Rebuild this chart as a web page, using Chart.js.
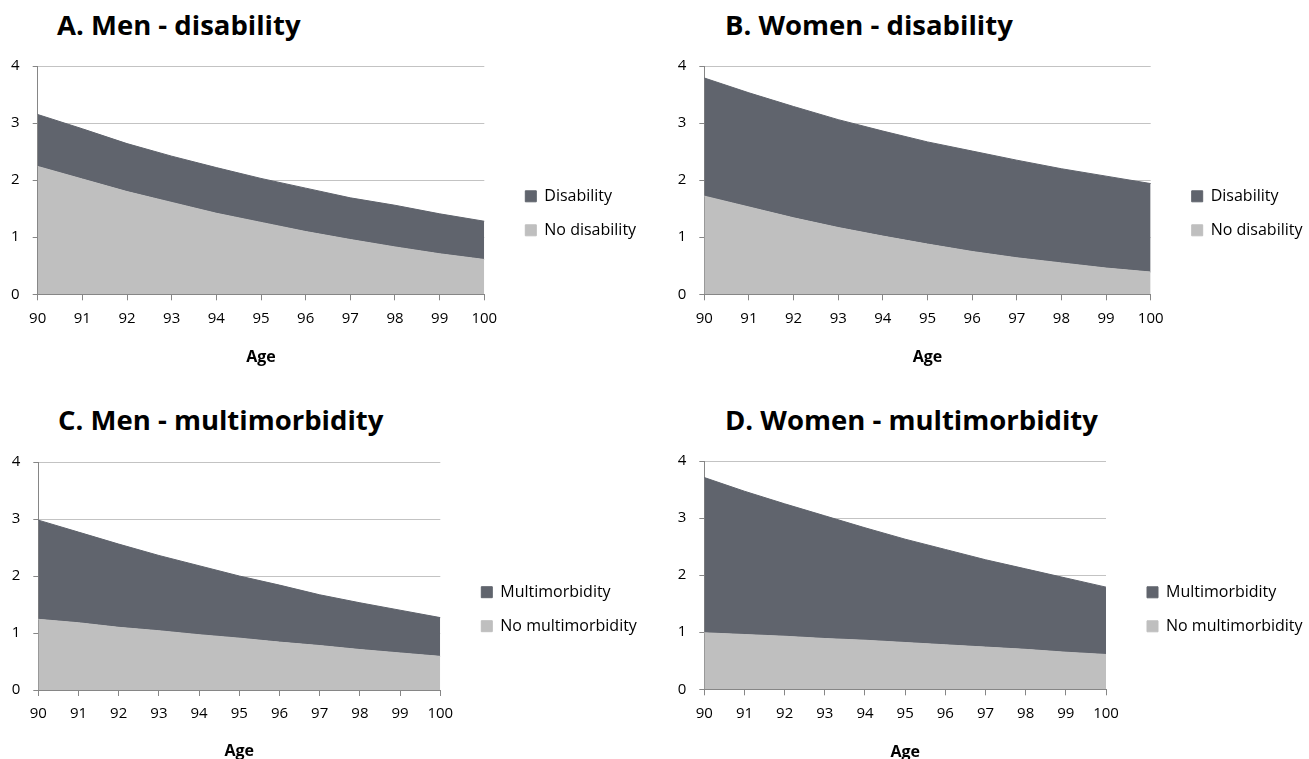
<!DOCTYPE html>
<html>
<head>
<meta charset="utf-8">
<script src="https://cdn.jsdelivr.net/npm/chart.js@4/dist/chart.umd.min.js"></script>
<style>
  html, body { margin: 0; padding: 0; background: #ffffff; }
  body { width: 1309px; height: 759px; position: relative; overflow: hidden; font-family: 'Open Sans', sans-serif; }
  canvas { position: absolute; }
  .ptitle { position: absolute; font: bold 27.5px 'Open Sans', sans-serif; color: #000; line-height: 27px; white-space: nowrap; }
</style>
</head>
<body>
<div class="ptitle" id="tA">A. Men - disability</div>
<div class="ptitle" id="tB">B. Women - disability</div>
<div class="ptitle" id="tC">C. Men - multimorbidity</div>
<div class="ptitle" id="tD">D. Women - multimorbidity</div>
<canvas id="cA"></canvas>
<canvas id="cB"></canvas>
<canvas id="cC"></canvas>
<canvas id="cD"></canvas>
<script>
// ---- data ----
const ages = ['90', '91', '92', '93', '94', '95', '96', '97', '98', '99', '100'];
const yTicks = [0, 1, 2, 3, 4];

const menNoDisability   = [2.24, 2.02, 1.80, 1.61, 1.42, 1.26, 1.10, 0.96, 0.83, 0.71, 0.61];
const menDisability     = [0.91, 0.88, 0.84, 0.81, 0.80, 0.77, 0.76, 0.73, 0.73, 0.70, 0.67];
const womenNoDisability = [1.72, 1.53, 1.34, 1.17, 1.02, 0.88, 0.75, 0.64, 0.55, 0.46, 0.39];
const womenDisability   = [2.07, 2.00, 1.95, 1.89, 1.84, 1.79, 1.76, 1.71, 1.65, 1.61, 1.55];
const menNoMulti        = [1.24, 1.18, 1.10, 1.04, 0.97, 0.91, 0.84, 0.78, 0.71, 0.65, 0.59];
const menMulti          = [1.74, 1.59, 1.46, 1.32, 1.21, 1.09, 1.00, 0.89, 0.82, 0.75, 0.68];
const womenNoMulti      = [0.99, 0.96, 0.93, 0.89, 0.86, 0.82, 0.78, 0.74, 0.70, 0.65, 0.61];
const womenMulti        = [2.72, 2.51, 2.32, 2.15, 1.97, 1.81, 1.67, 1.53, 1.41, 1.30, 1.18];

const titles = ['A. Men - disability', 'B. Women - disability', 'C. Men - multimorbidity', 'D. Women - multimorbidity'];
const xTitle = 'Age';

// ---- styles / layout ----
const DARK = '#60646d';
const LIGHT = '#bfbfbf';
const AXIS = '#868686';
const GRID = '#c3c3c3';
const FONT = "'Open Sans', sans-serif";
const LEG_PAD = 18;
const AGE_SIZE = 16;
const AGE_LH = 19;
const PAD_TOP = 26;

const panels = [
  { id: 'cA', tid: 'tA', left: 0,   w: 654, bottomEdge: 370, plot: {l: 37.7,  r: 484.3,  t: 65.7,  b: 294},   legC: 213, ageY: 357, titleX: 57, titleTop: 11,
    top_: menDisability, bot: menNoDisability, topName: 'Disability', botName: 'No disability' },
  { id: 'cB', tid: 'tB', left: 654, w: 655, bottomEdge: 370, plot: {l: 704.3, r: 1150.7, t: 65.7,  b: 294},   legC: 213, ageY: 357, titleX: 725, titleTop: 11,
    top_: womenDisability, bot: womenNoDisability, topName: 'Disability', botName: 'No disability' },
  { id: 'cC', tid: 'tC', left: 0,   w: 654, bottomEdge: 759, plot: {l: 38.3,  r: 440.3,  t: 462.3, b: 690.3}, legC: 609.5, ageY: 752, titleX: 58, titleTop: 406,
    top_: menMulti, bot: menNoMulti, topName: 'Multimorbidity', botName: 'No multimorbidity' },
  { id: 'cD', tid: 'tD', left: 654, w: 655, bottomEdge: 759, plot: {l: 704.3, r: 1106,   t: 460.7, b: 689},   legC: 609, ageY: 752, titleX: 725, titleTop: 406,
    top_: womenMulti, bot: womenNoMulti, topName: 'Multimorbidity', botName: 'No multimorbidity' }
];

panels.forEach((p, i) => {
  const t = document.getElementById(p.tid);
  t.textContent = titles[i];
  t.style.left = p.titleX + 'px';
  t.style.top = p.titleTop + 'px';

  const top = p.plot.t - PAD_TOP;
  const h = Math.round(p.bottomEdge - top);
  const cv = document.getElementById(p.id);
  cv.width = p.w; cv.height = h;
  cv.style.left = p.left + 'px'; cv.style.top = top + 'px';
  cv.style.width = p.w + 'px'; cv.style.height = h + 'px';

  const legBottom = 2 * p.legC - p.plot.t;
  const xAxisH = legBottom - p.plot.b;
  const padBottom = top + h - legBottom;
  const yAxisW = p.plot.l - p.left;
  const ageOff = legBottom - p.ageY - AGE_LH / 2;

  const chart = new Chart(cv, {
    type: 'line',
    data: {
      labels: ages,
      datasets: [
        { label: p.botName, data: p.bot, fill: 'origin', backgroundColor: LIGHT, borderColor: LIGHT, borderWidth: 1, pointRadius: 0, tension: 0 },
        { label: p.topName, data: p.top_, fill: '-1', backgroundColor: DARK, borderColor: DARK, borderWidth: 1, pointRadius: 0, tension: 0 }
      ]
    },
    options: {
      responsive: false,
      animation: false,
      devicePixelRatio: 1,
      layout: { padding: { left: 0, top: PAD_TOP, bottom: padBottom, right: 10 } },
      plugins: {
        tooltip: { enabled: false },
        legend: {
          position: 'right',
          align: 'center',
          reverse: true,
          maxWidth: 400,
          labels: {
            boxWidth: 11, boxHeight: 11, padding: LEG_PAD,
            color: '#000', font: { family: FONT, size: 16 }
          }
        }
      },
      scales: {
        x: {
          type: 'category',
          offset: false,
          afterFit: s => { s.height = xAxisH; },
          grid: { drawOnChartArea: false, drawTicks: true, tickLength: 6, tickColor: AXIS },
          border: { color: AXIS, width: 1 },
          ticks: { color: '#000', font: { family: FONT, size: 15 }, maxRotation: 0, autoSkip: false, padding: 9 },
          title: { display: true, text: xTitle, color: '#000', font: { family: FONT, size: AGE_SIZE, weight: 'bold', lineHeight: AGE_LH / AGE_SIZE }, padding: { top: 0, bottom: ageOff } }
        },
        y: {
          stacked: true,
          min: 0, max: 4,
          afterFit: s => { s.width = yAxisW; },
          afterBuildTicks: s => { s.ticks = yTicks.map(v => ({ value: v })); },
          grid: { color: GRID, lineWidth: 1, drawTicks: true, tickLength: 5, tickColor: AXIS },
          border: { color: AXIS, width: 1 },
          ticks: { color: '#000', font: { family: FONT, size: 15 }, padding: 13 }
        },
        y2: {
          type: 'linear', position: 'right', display: true,
          afterFit: s => { s.width = 41 - LEG_PAD; },
          grid: { display: false, drawTicks: false },
          border: { display: false },
          ticks: { display: false }
        }
      }
    }
  });

  // fine-tune padding so the plot edges land where the reference has them
  const wantRight = p.plot.r - p.left;
  const wantTop = p.plot.t - top;
  const dR = chart.chartArea.right - wantRight;
  const dT = chart.chartArea.top - wantTop;
  chart.options.layout.padding.right = 10 + dR;
  chart.options.layout.padding.top = PAD_TOP - dT;
  chart.update('none');
});
</script>
</body>
</html>
